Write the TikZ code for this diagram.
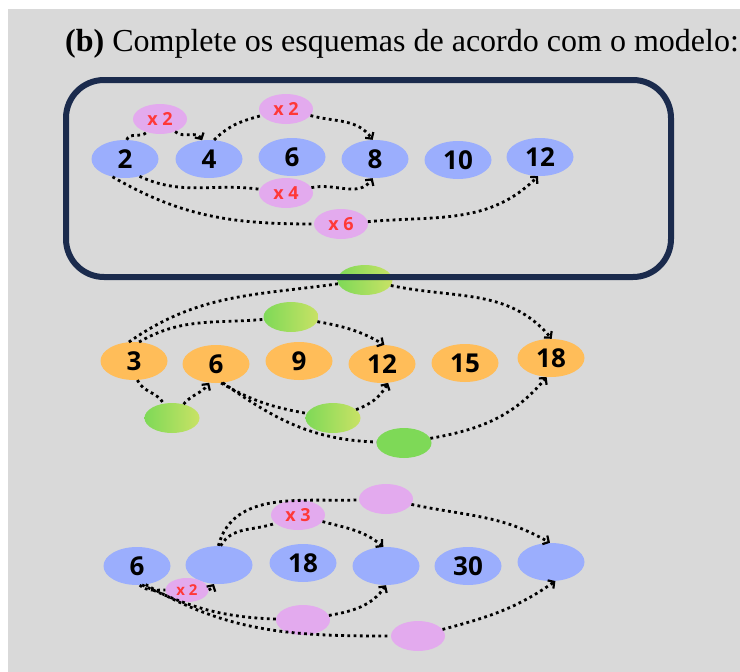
\documentclass[tikz,border=0pt]{standalone}
\usepackage{fontspec}
\setmainfont{Liberation Serif}
\newfontfamily\numfont{Open Sans}
\usetikzlibrary{arrows.meta,shapes.geometric,shadings}

\definecolor{bggray}{HTML}{D9D9D9}
\definecolor{navy}{HTML}{1B2B4D}
\definecolor{numblue}{HTML}{9BAEFD}
\definecolor{numorange}{HTML}{FFBD59}
\definecolor{lblpink}{HTML}{E3AAEE}
\definecolor{lblred}{HTML}{FF3838}
\definecolor{grnA}{HTML}{7ED957}
\definecolor{grnB}{HTML}{C9E265}

\newcommand*{\ya}{159}
\newcommand*{\yb}{361}
\newcommand*{\yc}{565}

\begin{document}
\begin{tikzpicture}
[
	x=1pt, y=-1pt,
	num/.style={ellipse,fill=numblue,inner sep=0pt,minimum width=67pt,minimum height=38pt,
		font=\numfont\bfseries\fontsize{26pt}{26pt}\selectfont},
	numo/.style={num,fill=numorange},
	lbl/.style={ellipse,fill=lblpink,inner sep=0pt,minimum width=54pt,minimum height=30pt,
		text=lblred,font=\numfont\bfseries\fontsize{18pt}{18pt}\selectfont},
	lblsmall/.style={lbl,minimum width=43pt,minimum height=24pt,font=\numfont\bfseries\fontsize{15pt}{15pt}\selectfont},
	grn/.style={ellipse,inner sep=0pt,minimum width=55pt,minimum height=30pt,left color=grnA,right color=grnB},
	grnsolid/.style={ellipse,inner sep=0pt,minimum width=55pt,minimum height=30pt,fill=grnA},
	link/.style={line width=2.8pt,dash pattern=on 2.8pt off 3.4pt},
	tip/.style={-{Straight Barb[length=4.5pt,width=10pt,line width=2.2pt]}}
]

	\useasboundingbox (0,0) rectangle (740,672);
	\fill[white] (0,0) rectangle (740,672);
	\fill[bggray] (8,9) rectangle (740,672);

	% title
	\node[anchor=base west,inner sep=0pt,font=\fontsize{32pt}{32pt}\selectfont] (title) at (65,51)
		{\textbf{(b)} Complete os esquemas de acordo com o modelo:};

	% model row
	\node[num] (a2) at (125,\ya) {2};
	\node[num] (a4) at (209,\ya) {4};
	\node[num] (a6) at (292,157) {6};
	\node[num] (a8) at (375,\ya) {8};
	\node[num] (a10) at (458,160) {10};
	\node[num] (a12) at (540,157) {12};

	\node[lbl] (l1) at (160,119) {x 2};
	\node[lbl] (l2) at (286,109) {x 2};
	\node[lbl] (l3) at (286,193) {x 4};
	\node[lbl] (l4) at (341,224) {x 6};

	\draw[link] (a2.85) to[out=70,in=225] (l1);
	\draw[link,tip] (l1) to[out=-40,in=120] (a4.110);
	\draw[link] (a4.75) to[out=45,in=195] (l2);
	\draw[link,tip] (l2) to[out=-15,in=125] (a8.97);
	\draw[link] (a2.-50) to[out=-25,in=172] (l3);
	\draw[link,tip] (l3) to[out=12,in=-125] (a8.-97);
	\draw[link] (a2.-125) to[out=-30,in=180] (l4);
	\draw[link,tip] (l4) to[out=5,in=-135] (a12.-96);

	% second row
	\node[numo] (b3) at (134,\yb) {3};
	\node[numo] (b6) at (216,364) {6};
	\node[numo] (b9) at (299,\yb) {9};
	\node[numo] (b12) at (382,364) {12};
	\node[numo] (b15) at (465,363) {15};
	\node[numo] (b18) at (551,358) {18};

	\node[grn] (g1) at (365,280) {};
	\node[grn] (g2) at (291,317) {};
	\node[grn] (g3) at (172,418) {};
	\node[grn] (g4) at (333,418) {};
	\node[grnsolid] (g5) at (404,443) {};

	\draw[link] (b3.105) to[out=35,in=188] (g1);
	\draw[link,tip] (g1) to[out=-12,in=130] (b18.88);
	\draw[link] (b3.75) to[out=30,in=185] (g2);
	\draw[link,tip] (g2) to[out=-10,in=150] (b12.83);
	\draw[link] (b3.-80) to[out=-65,in=120] (g3);
	\draw[link,tip] (g3) to[out=50,in=-125] (b6.-110);
	\draw[link] (b6.-75) to[out=-30,in=170] (g4);
	\draw[link,tip] (g4) to[out=20,in=-120] (b12.-72);
	\draw[link] (b6.-70) to[out=-35,in=178] (g5);
	\draw[link,tip] (g5) to[out=10,in=-130] (b18.-103);

	% third row
	\node[num] (c1) at (137,566) {6};
	\node[num] (c2) at (219,\yc) {};
	\node[num] (c3) at (303,563) {18};
	\node[num] (c4) at (386,566) {};
	\node[num] (c5) at (468,566) {30};
	\node[num] (c6) at (551,562) {};

	\node[lbl] (p1) at (298,515) {x 3};
	\node[lbl] (p2) at (386,499) {};
	\node[lblsmall] (p3) at (187,590) {x 2};
	\node[lbl] (p4) at (303,620) {};
	\node[lbl] (p5) at (418,636) {};

	\draw[link] (c2.85) to[out=60,in=200] (p1);
	\draw[link,tip] (p1) to[out=-15,in=140] (c4.98);
	\draw[link] (c2.92) to[out=75,in=182] (p2);
	\draw[link,tip] (p2) to[out=-12,in=150] (c6.93);
	\draw[link] (c1.-82) to[out=-40,in=180] (p3);
	\draw[link,tip] (p3) to[out=0,in=-120] (c2.-105);
	\draw[link] (c1.-75) to[out=-25,in=178] (p4);
	\draw[link,tip] (p4) to[out=10,in=-125] (c4.-90);
	\draw[link] (c1.-65) to[out=-30,in=180] (p5);
	\draw[link,tip] (p5) to[out=15,in=-145] (c6.-77);

	% model frame
	\draw[navy,line width=6pt,rounded corners=38pt] (66,80) rectangle (671,277);

\end{tikzpicture}
\end{document}
